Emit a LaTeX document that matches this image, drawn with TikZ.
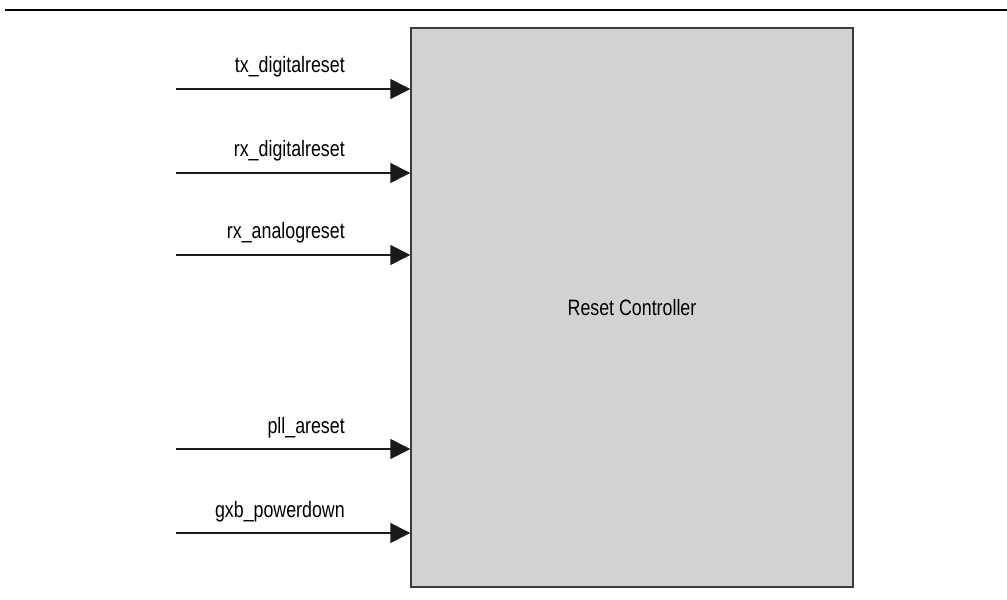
\documentclass[tikz,border=0pt]{standalone}
\usepackage{fontspec}
\setmainfont{Liberation Sans}[FakeStretch=0.8]
\usetikzlibrary{arrows.meta,positioning}
\definecolor{boxgray}{RGB}{209,210,212}
\definecolor{edgegray}{RGB}{60,60,60}

\begin{document}
\begin{tikzpicture}[>={Triangle[length=17pt,width=17pt]},x=0.3mm,y=-0.3mm,
  sig/.style={->,line width=1.1pt,black!90},
  siglabel/.style={anchor=base east,inner sep=0pt,font=\fontsize{19}{22}\selectfont},
  ctrlbox/.style={draw=edgegray,line width=1.2pt,fill=boxgray,minimum width=132.6mm,
    minimum height=167.7mm,font=\fontsize{19}{22}\selectfont}]
\useasboundingbox (0,0) rectangle (1007,600);
\draw[line width=1.8pt] (5,10)--(1007,10);
\node[ctrlbox] (ctrl) at (632,307.5) {Reset Controller};
\foreach \y/\lab [count=\i] in {89/tx\_digitalreset,173/rx\_digitalreset,255/rx\_analogreset,
  449/pll\_areset,533/gxb\_powerdown} {
 \coordinate (s\i) at (176,\y);
 \draw[sig] (s\i) -- (s\i -| ctrl.west);
 \node[siglabel] (l\i) at (345,\y-16) {\lab};
}
\end{tikzpicture}
\end{document}
